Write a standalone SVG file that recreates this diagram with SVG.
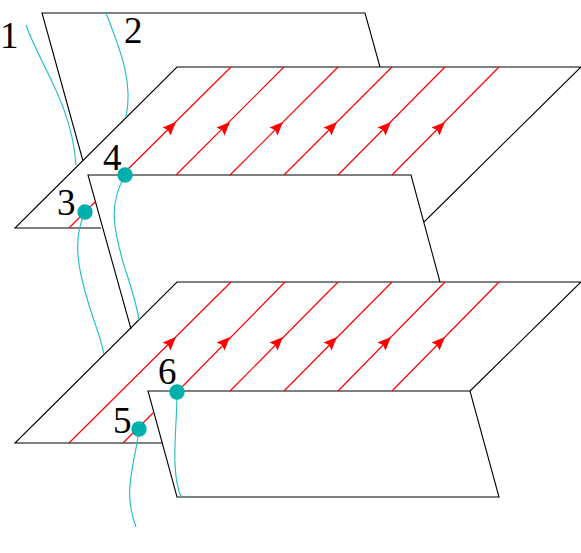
<svg xmlns="http://www.w3.org/2000/svg" width="581" height="553" viewBox="0 0 581 553">
<style>
.k{fill:none;stroke:#000;stroke-width:1.1}
.r{fill:none;stroke:#f00;stroke-width:1.2}
.c{fill:none;stroke:#1fbfbf;stroke-width:1.1}
.d{fill:#00b0ac}
.a{fill:#f00}
text{font-family:"Liberation Serif","Times New Roman",serif;font-size:37px;fill:#000}
</style>
<defs>
<path id="ah" class="a" d="M0,0 L-13.500,5.500 L-8,8 L-5.500,13.500 Z"/>
</defs>
<rect width="581" height="553" fill="#fff"/>
<g id="planes">
<path class="k" d="M83,161 L42,13 L365,13 L380,67"/>
<path class="k" d="M424,222 L581,67 L177,67 L15,228 L101,228"/>
<path class="k" d="M131,329 L88,175 L411,175 L440,282"/>
<path class="k" d="M470,391 L581,282 L177,282 L15,443 L163,443"/>
<path class="k" d="M470,391 L148,391 L177,497 L499,497 Z"/>
</g>
<g id="connectors">
<path class="r" d="M231,67 L122,175 M284,67 L176,175 M338,67 L230,175 M392,67 L284,175 M445,67 L338,175 M499,67 L392,175 M95,202 L69,228"/>
<path class="r" d="M231,282 L69,443 M285,282 L181,388 M338,282 L230,391 M392,282 L284,391 M445,282 L338,391 M499,282 L392,391 M154,412 L123,443"/>
<g>
<use href="#ah" x="176" y="122"/>
<use href="#ah" x="230" y="122"/>
<use href="#ah" x="283" y="122"/>
<use href="#ah" x="337" y="122"/>
<use href="#ah" x="391" y="122"/>
<use href="#ah" x="445" y="122"/>
<use href="#ah" x="176" y="337"/>
<use href="#ah" x="230" y="337"/>
<use href="#ah" x="283" y="337"/>
<use href="#ah" x="337" y="337"/>
<use href="#ah" x="391" y="337"/>
<use href="#ah" x="445" y="337"/>
</g>
<path class="c" d="M26,25 C40,65 72,105 76,165"/>
<path class="c" d="M106,13 C118,45 134,80 126,117"/>
<path class="c" d="M85,212 C72,240 78,270 89,305 C95,325 100,335 104,354"/>
<path class="c" d="M125,175 C108,205 114,230 123,262 C130,285 136,300 139,320"/>
<path class="c" d="M139,429 C135,465 122,490 136,527"/>
<path class="c" d="M177,392 C177,430 170,470 181,497"/>
</g>
<g id="node-1"><text x="0" y="48">1</text></g>
<g id="node-2"><text x="124" y="43">2</text></g>
<g id="node-3"><circle class="d" cx="85" cy="212" r="7.700"/><text x="57" y="215">3</text></g>
<g id="node-4"><circle class="d" cx="125" cy="175" r="7.700"/><text x="103" y="170">4</text></g>
<g id="node-5"><circle class="d" cx="139" cy="429" r="7.700"/><text x="113" y="433">5</text></g>
<g id="node-6"><circle class="d" cx="177" cy="392" r="7.700"/><text x="158" y="384">6</text></g>
</svg>
